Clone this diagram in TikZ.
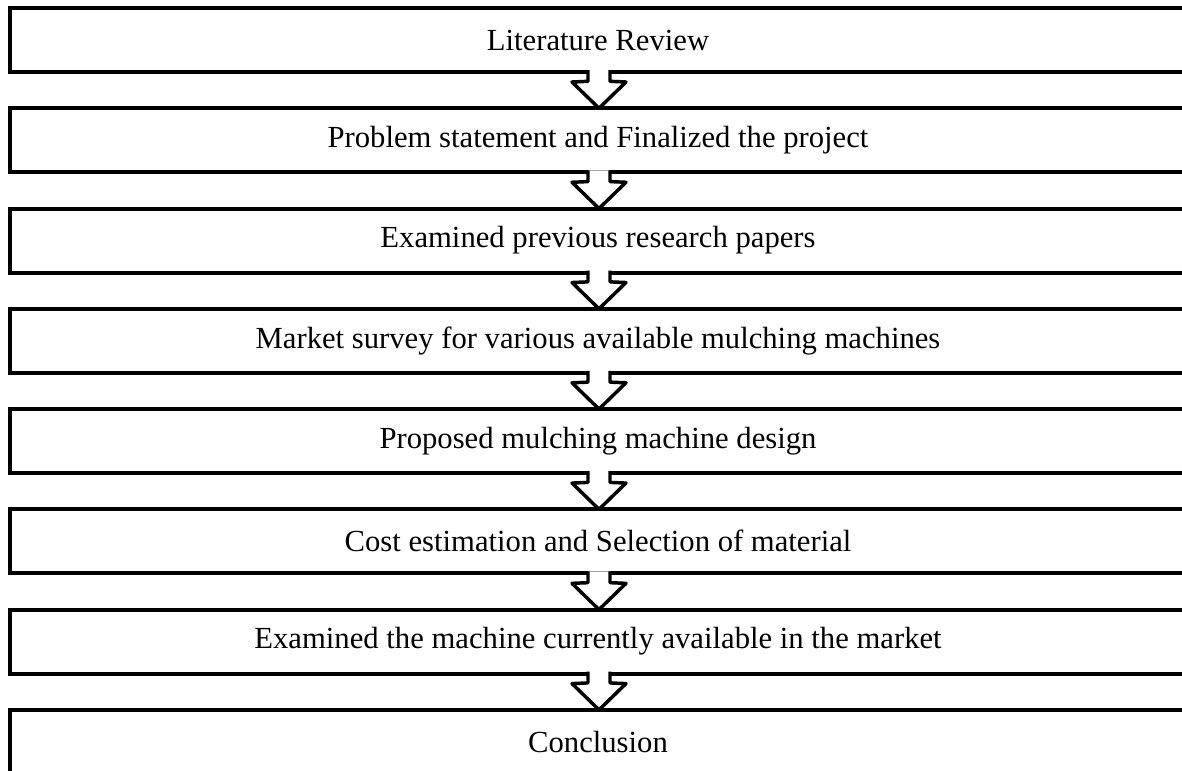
\documentclass[tikz,border=0pt]{standalone}
\usepackage{fontspec}
\setmainfont{Liberation Serif}
\usetikzlibrary{positioning}
\tikzstyle{stepbox}=[draw, line width=3pt, outer sep=0pt, inner sep=0pt, minimum width=882pt, minimum height=48pt, font=\fontsize{23}{26}\selectfont]
\tikzstyle{downarrow}=[draw, fill=white, line width=2.6pt, line join=round]

\begin{document}
\begin{tikzpicture}[x=0.75pt, y=-0.75pt]
        \clip (0,0) rectangle (1182,771);
        \node[stepbox] (s1) at (598,40) {Literature Review};
        \node[stepbox, below=27.2pt of s1] (s2) {Problem statement and Finalized the project};
        \node[stepbox, below=27.2pt of s2] (s3) {Examined previous research papers};
        \node[stepbox, below=27.2pt of s3] (s4) {Market survey for various available mulching machines};
        \node[stepbox, below=27.2pt of s4] (s5) {Proposed mulching machine design};
        \node[stepbox, below=27.2pt of s5] (s6) {Cost estimation and Selection of material};
        \node[stepbox, below=27.2pt of s6] (s7) {Examined the machine currently available in the market};
        \node[stepbox, below=27.2pt of s7] (s8) {Conclusion};
        \foreach \a/\b in {s1/s2, s2/s3, s3/s4, s4/s5, s5/s6, s6/s7, s7/s8}
            \draw[downarrow] ([xshift=-7.5pt, yshift=1.5pt]\a.south) -- ++(0,-8.5pt)
                -- ++(-12pt,-0.5pt) -- ([xshift=0.75pt]\b.north)
                -- ([xshift=21pt, yshift=-7.5pt]\a.south) -- ++(-12pt,0.5pt)
                -- ++(0,8.5pt);
    \end{tikzpicture}
\end{document}
